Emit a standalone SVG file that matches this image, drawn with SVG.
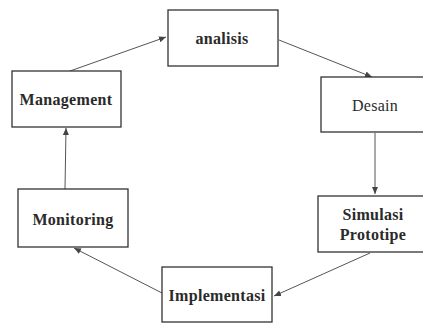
<svg xmlns="http://www.w3.org/2000/svg" width="423" height="323" viewBox="0 0 423 323">
<style>
.box{fill:#fff;stroke:#333;stroke-width:1.3}
.lbl{font-family:"Liberation Serif","Times New Roman",serif;font-size:16px;font-weight:bold;fill:#2a2a2a;text-anchor:middle;letter-spacing:0.3px}
.reg{font-weight:normal}
.edge{stroke:#555;stroke-width:1;fill:none;marker-end:url(#ah)}
</style>
<defs>
<marker id="ah" markerWidth="8" markerHeight="8" refX="7" refY="4" orient="auto" markerUnits="userSpaceOnUse">
<path d="M0,1 L7,4 L0,7 z" fill="#444"/>
</marker>
</defs>
<rect width="423" height="323" fill="#fff"/>
<g id="edges">
<line class="edge" x1="70" y1="71" x2="166" y2="37"/>
<line class="edge" x1="279" y1="40" x2="372" y2="77"/>
<line class="edge" x1="375" y1="133" x2="375" y2="194"/>
<line class="edge" x1="370" y1="253" x2="274" y2="296"/>
<line class="edge" x1="162" y1="293" x2="74" y2="248"/>
<line class="edge" x1="65" y1="189" x2="66" y2="128"/>
</g>
<g id="analisis"><rect class="box" x="168" y="10" width="110" height="56"/><text class="lbl" x="222" y="44">analisis</text></g>
<g id="management"><rect class="box" x="12" y="71" width="109" height="56"/><text class="lbl" x="66" y="105">Management</text></g>
<g id="desain"><rect class="box" x="321" y="77" width="105" height="55"/><text class="lbl reg" x="375" y="111">Desain</text></g>
<g id="monitoring"><rect class="box" x="18" y="189" width="110" height="58"/><text class="lbl" x="73" y="225">Monitoring</text></g>
<g id="simulasi"><rect class="box" x="318" y="196" width="108" height="56"/><text class="lbl" x="373" y="220">Simulasi</text><text class="lbl" x="373" y="240">Prototipe</text></g>
<g id="implementasi"><rect class="box" x="162" y="267" width="110" height="55"/><text class="lbl" x="217" y="301">Implementasi</text></g>
</svg>
